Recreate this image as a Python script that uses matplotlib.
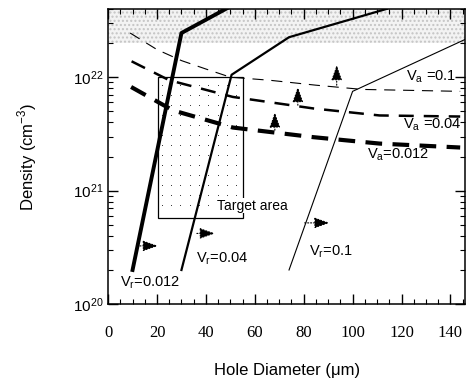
import numpy as np
import matplotlib
matplotlib.use('Agg')
import matplotlib.pyplot as plt
from matplotlib.patches import Rectangle
from matplotlib.ticker import MultipleLocator, LogLocator, NullFormatter

plt.rcParams['font.family'] = ['Liberation Sans', 'DejaVu Sans']
plt.rcParams['mathtext.fontset'] = 'custom'
plt.rcParams['mathtext.rm'] = 'Liberation Sans'

# radial density limits (solid) and axial limits (dashed)
vr012_x = [10, 30, 50]
vr012_y = [2e20, 2.45e22, 4.2e22]
vr04_x = [30, 50.5, 74, 114]
vr04_y = [2e20, 1.05e22, 2.25e22, 4e22]
vr1_x = [74, 100, 146]
vr1_y = [2e20, 7.5e21, 2.15e22]

va1_x = [9, 20, 30, 40, 50, 66, 85, 104, 144]
va1_y = [2.45e22, 1.75e22, 1.4e22, 1.18e22, 1.0e22, 9.4e21, 8.5e21, 7.8e21, 7.5e21]
va04_x = [9.6, 25, 51, 84, 111, 144]
va04_y = [1.38e22, 9.4e21, 6.7e21, 5.3e21, 4.6e21, 4.5e21]
va012_x = [9.4, 26.5, 51, 84, 111, 144]
va012_y = [8.2e21, 5.1e21, 3.6e21, 2.96e21, 2.6e21, 2.4e21]

target_x = [20.4, 55]
target_y = [5.8e20, 1e22]
shade_low = 2e22

fig = plt.figure(figsize=(4.66, 3.85), dpi=100)
ax = fig.add_axes([0.232, 0.21, 0.766, 0.767])
ax.set_yscale('log')
ax.set_xlim(0, 146)
ax.set_ylim(1e20, 4e22)

# saturated region at top
ax.axhspan(shade_low, 1e23, facecolor='#f3f3f3', hatch='....', edgecolor='#c4c4c4', linewidth=0, zorder=0)

# target window with a sparse dot fill
ax.add_patch(Rectangle((target_x[0], target_y[0]), target_x[1] - target_x[0], target_y[1] - target_y[0],
                       facecolor='none', edgecolor='black', lw=0.9, zorder=2))
gx, gy = np.meshgrid(np.arange(target_x[0] + 1.6, target_x[1] - 0.5, 3.8),
                     10 ** np.arange(np.log10(target_y[1]) - 0.07, np.log10(target_y[0]) + 0.03, -0.088))
ax.scatter(gx.ravel(), gy.ravel(), s=0.5, color='#333333', linewidths=0, zorder=1)
ax.text(44.5, 7.4e20, 'Target area', fontsize=10, va='center', ha='left', zorder=3,
        bbox=dict(facecolor='white', edgecolor='none', pad=0.5))

ax.plot(vr012_x, vr012_y, color='black', lw=2.8, zorder=4)
ax.plot(vr04_x, vr04_y, color='black', lw=1.6, zorder=4)
ax.plot(vr1_x, vr1_y, color='black', lw=0.8, zorder=4)

ax.plot(va1_x, va1_y, color='black', lw=0.8, dashes=(10, 7), zorder=4)
ax.plot(va04_x, va04_y, color='black', lw=1.8, dashes=(6, 4), zorder=4)
ax.plot(va012_x, va012_y, color='black', lw=3.0, dashes=(4, 2.5), zorder=4)

# direction arrows
arrows = [((13, 3.26e20), (20.4, 3.26e20)),
          ((36.3, 4.2e20), (43.7, 4.2e20)),
          ((80.4, 5.2e20), (90.6, 5.2e20)),
          ((93.5, 8.5e21), (93.5, 1.28e22)),
          ((77.6, 5.66e21), (77.6, 8.2e21)),
          ((68.2, 3.41e21), (68.2, 4.9e21))]
for start, end in arrows:
    ax.annotate('', xy=end, xytext=start, zorder=5,
                arrowprops=dict(arrowstyle='-|>,head_length=0.85,head_width=0.3',
                                mutation_scale=11, color='black', lw=0.8, linestyle=':',
                                shrinkA=0, shrinkB=0))

lab = dict(fontsize=10.5, va='center', ha='left', zorder=5)
ax.text(4.9, 1.55e20, r'$\mathregular{V_r}$=0.012', **lab)
ax.text(36, 2.5e20, r'$\mathregular{V_r}$=0.04', **lab)
ax.text(82, 2.9e20, r'$\mathregular{V_r}$=0.1', **lab)
ax.text(122, 1.0e22, r'$\mathregular{V_a}$ =0.1', **lab)
ax.text(120.5, 3.8e21, r'$\mathregular{V_a}$ =0.04', **lab)
ax.text(106, 2.05e21, r'$\mathregular{V_a}$=0.012', **lab)

ax.xaxis.set_major_locator(MultipleLocator(20))
ax.xaxis.set_minor_locator(MultipleLocator(5))
ax.yaxis.set_major_locator(LogLocator(base=10, numticks=5))
ax.yaxis.set_minor_locator(LogLocator(base=10, subs=np.arange(2, 10), numticks=20))
ax.yaxis.set_minor_formatter(NullFormatter())
ax.tick_params(which='both', direction='in', top=True, right=True)
ax.tick_params(which='major', length=7, width=1)
ax.tick_params(which='minor', length=3.5, width=0.8)
ax.tick_params(axis='y', labelsize=11)
ax.tick_params(axis='x', pad=15)
for t in ax.get_xticklabels():
    t.set_fontfamily('Liberation Serif')
    t.set_fontsize(12)
for s in ax.spines.values():
    s.set_linewidth(1.1)

ax.set_xlabel('Hole Diameter (\u03bcm)', fontsize=12, labelpad=16)
ax.set_ylabel('Density (cm$^{-3}$)', fontsize=12, labelpad=24)

fig.savefig('out.png', dpi=100)
